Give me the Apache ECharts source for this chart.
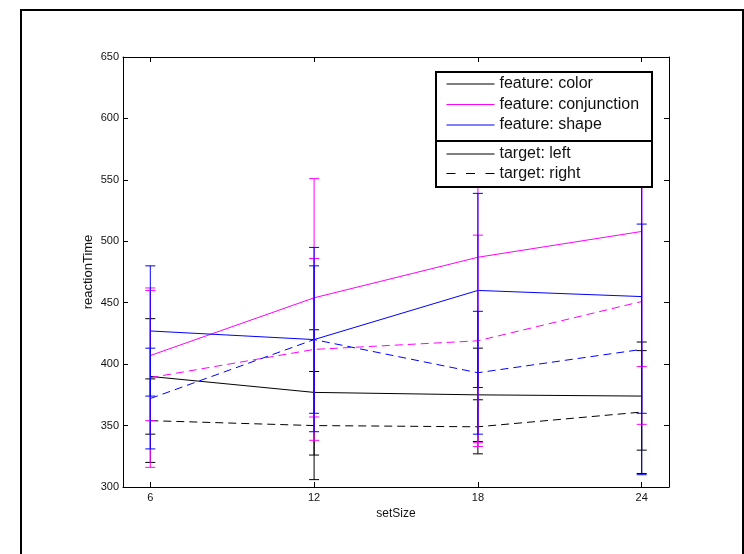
<!DOCTYPE html>
<html>
<head>
<meta charset="utf-8">
<script src="https://cdn.jsdelivr.net/npm/echarts@6/dist/echarts.min.js"></script>
<style>html,body{margin:0;padding:0;background:#fff}#c{width:744px;height:554px}</style>
</head>
<body>
<div id="c"></div>
<script>
var setSizes = [6, 12, 18, 24];
var xTicks = [6, 12, 18, 24];
var colorLeft = [390, 377, 375, 374];
var colorLeftErr = [47, 51, 38, 44];
var colorRight = [354, 350, 349, 361];
var colorRightErr = [34, 44, 22, 50];
var conjLeft = [407, 454, 487, 508];
var conjLeftErr = [53, 97, 151, 110];
var conjRight = [389, 412, 419, 451];
var conjRightErr = [73, 74, 86, 100];
var shapeLeft = [427, 420, 460, 455];
var shapeLeftErr = [53, 75, 79, 95];
var shapeRight = [372, 420, 393, 412];
var shapeRightErr = [41, 60, 50, 102];

var FONT = 'Liberation Sans, Arial, Helvetica, sans-serif';
var DASH = [8, 5];

function pts(vals) { return setSizes.map(function (x, i) { return [x, vals[i]]; }); }
function errs(vals, e) { return setSizes.map(function (x, i) { return [x, vals[i] - e[i], vals[i] + e[i]]; }); }

function lineSeries(name, vals, color, dashed) {
  return {
    type: 'line', name: name, data: pts(vals), symbol: 'none', showSymbol: false,
    lineStyle: { color: color, width: 1, type: dashed ? DASH : 'solid' },
    itemStyle: { color: color }, z: 3, silent: true
  };
}
function errSeries(vals, e, color) {
  return {
    type: 'custom', name: 'err', data: errs(vals, e), clip: true, z: 4, silent: true,
    renderItem: function (params, api) {
      var x = api.value(0);
      var lo = api.coord([x, api.value(1)]);
      var hi = api.coord([x, api.value(2)]);
      var w = 5;
      var st = { stroke: color, lineWidth: 1, fill: null };
      return {
        type: 'group',
        children: [
          { type: 'line', shape: { x1: hi[0], y1: hi[1], x2: lo[0], y2: lo[1] }, style: st },
          { type: 'line', shape: { x1: hi[0] - w, y1: hi[1], x2: hi[0] + w, y2: hi[1] }, style: st },
          { type: 'line', shape: { x1: lo[0] - w, y1: lo[1], x2: lo[0] + w, y2: lo[1] }, style: st }
        ]
      };
    }
  };
}

var BLACK = '#000000', MAG = '#ff00ff', BLUE = '#0000ff';

var series = [
  lineSeries('feature: color', colorLeft, BLACK, false),
  lineSeries('feature: conjunction', conjLeft, MAG, false),
  lineSeries('feature: shape', shapeLeft, BLUE, false),
  lineSeries('feature: color', colorRight, BLACK, true),
  lineSeries('feature: conjunction', conjRight, MAG, true),
  lineSeries('feature: shape', shapeRight, BLUE, true),
  { type: 'line', name: 'target: left', data: [], symbol: 'none', showSymbol: false, lineStyle: { color: BLACK, width: 1, type: 'solid' }, itemStyle: { color: BLACK } },
  { type: 'line', name: 'target: right', data: [], symbol: 'none', showSymbol: false, lineStyle: { color: BLACK, width: 1, type: [9, 10.5] }, itemStyle: { color: BLACK } },
  errSeries(colorLeft, colorLeftErr, BLACK),
  errSeries(colorRight, colorRightErr, BLACK),
  errSeries(conjLeft, conjLeftErr, MAG),
  errSeries(conjRight, conjRightErr, MAG),
  errSeries(shapeLeft, shapeLeftErr, BLUE),
  errSeries(shapeRight, shapeRightErr, BLUE)
];

var axisLine = { show: true, onZero: false, lineStyle: { color: '#000', width: 1 } };
var legendCommon = {
  orient: 'vertical', left: 446, padding: 0,
  itemWidth: 48, itemHeight: 14, selectedMode: false, z: 60,
  itemStyle: { opacity: 0, borderWidth: 0 },
  lineStyle: { width: 1 },
  textStyle: { fontFamily: FONT, fontSize: 16, color: '#111', lineHeight: 16 }
};
var chart = echarts.init(document.getElementById('c'), null, { renderer: 'canvas' });
chart.setOption({
  animation: false,
  backgroundColor: '#fff',
  grid: { left: 123, right: 75, top: 57, bottom: 67 },
  xAxis: [
    {
      type: 'value', min: 5, max: 25, position: 'bottom',
      name: 'setSize', nameLocation: 'middle', nameGap: 19,
      nameTextStyle: { fontFamily: FONT, fontSize: 12, color: '#111' },
      axisLine: axisLine,
      axisTick: { show: true, inside: true, length: 5, customValues: xTicks, lineStyle: { color: '#000' } },
      axisLabel: { show: true, customValues: xTicks, margin: 5, fontFamily: FONT, fontSize: 11, color: '#111' },
      splitLine: { show: false }
    },
    {
      type: 'value', min: 5, max: 25, position: 'top',
      axisLine: axisLine,
      axisTick: { show: true, inside: true, length: 5, customValues: xTicks, lineStyle: { color: '#000' } },
      axisLabel: { show: false },
      splitLine: { show: false }
    }
  ],
  yAxis: [
    {
      type: 'value', min: 300, max: 650, interval: 50, position: 'left',
      name: 'reactionTime', nameLocation: 'middle', nameGap: 28, nameMoveOverlap: false,
      nameTextStyle: { fontFamily: FONT, fontSize: 13, color: '#111' },
      axisLine: axisLine,
      axisTick: { show: true, inside: true, length: 5, lineStyle: { color: '#000' } },
      axisLabel: { show: true, margin: 4, fontFamily: FONT, fontSize: 11, color: '#111' },
      splitLine: { show: false }
    },
    {
      type: 'value', min: 300, max: 650, interval: 50, position: 'right',
      axisLine: axisLine,
      axisTick: { show: true, inside: true, length: 5, lineStyle: { color: '#000' } },
      axisLabel: { show: false },
      splitLine: { show: false }
    }
  ],
  legend: [
    Object.assign({}, legendCommon, {
      data: ['feature: color', 'feature: conjunction', 'feature: shape'],
      top: 76, itemGap: 4.5
    }),
    Object.assign({}, legendCommon, {
      data: ['target: left', 'target: right'],
      top: 146, itemGap: 3.5
    })
  ],
  graphic: [
    { type: 'rect', z: 50, shape: { x: 21, y: 10, width: 722, height: 600 }, style: { fill: null, stroke: '#000', lineWidth: 2 } },
    { type: 'rect', z: 50, shape: { x: 436, y: 72, width: 216, height: 69 }, style: { fill: '#fff', stroke: '#000', lineWidth: 2 } },
    { type: 'rect', z: 50, shape: { x: 436, y: 141, width: 216, height: 46 }, style: { fill: '#fff', stroke: '#000', lineWidth: 2 } }
  ],
  series: series
});
</script>
</body>
</html>
